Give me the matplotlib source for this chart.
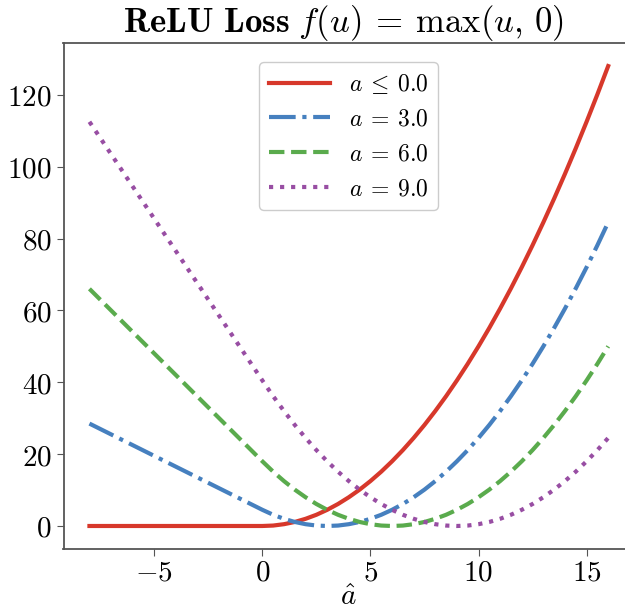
import numpy as np
import matplotlib
matplotlib.use("Agg")
import matplotlib.pyplot as plt
from matplotlib.ticker import FuncFormatter

plt.rcParams['mathtext.fontset'] = 'cm'
plt.rcParams['font.family'] = 'serif'
plt.rcParams['font.serif'] = ['DejaVu Serif']

# a_hat values (half steps)
a_hat = [-8, -7.5, -7, -6.5, -6, -5.5, -5, -4.5, -4, -3.5, -3, -2.5, -2, -1.5,
         -1, -0.5, 0, 0.5, 1, 1.5, 2, 2.5, 3, 3.5, 4, 4.5, 5, 5.5, 6, 6.5, 7,
         7.5, 8, 8.5, 9, 9.5, 10, 10.5, 11, 11.5, 12, 12.5, 13, 13.5, 14,
         14.5, 15, 15.5, 16]

# loss curves
loss_a0 = [0, 0, 0, 0, 0, 0, 0, 0, 0, 0, 0, 0, 0, 0, 0, 0, 0,
           0.12, 0.5, 1.12, 2, 3.12, 4.5, 6.12, 8, 10.12, 12.5, 15.12, 18,
           21.12, 24.5, 28.12, 32, 36.12, 40.5, 45.12, 50, 55.12, 60.5,
           66.12, 72, 78.12, 84.5, 91.12, 98, 105.12, 112.5, 120.12, 128]
loss_a3 = [28.5, 27, 25.5, 24, 22.5, 21, 19.5, 18, 16.5, 15, 13.5, 12, 10.5,
           9, 7.5, 6, 4.5, 3.12, 2, 1.12, 0.5, 0.12, 0, 0.12, 0.5, 1.12, 2,
           3.12, 4.5, 6.12, 8, 10.12, 12.5, 15.12, 18, 21.12, 24.5, 28.12,
           32, 36.12, 40.5, 45.12, 50, 55.12, 60.5, 66.12, 72, 78.12, 84.5]
loss_a6 = [66, 63, 60, 57, 54, 51, 48, 45, 42, 39, 36, 33, 30, 27, 24, 21,
           18, 15.12, 12.5, 10.12, 8, 6.12, 4.5, 3.12, 2, 1.12, 0.5, 0.12, 0,
           0.12, 0.5, 1.12, 2, 3.12, 4.5, 6.12, 8, 10.12, 12.5, 15.12, 18,
           21.12, 24.5, 28.12, 32, 36.12, 40.5, 45.12, 50]
loss_a9 = [112.5, 108, 103.5, 99, 94.5, 90, 85.5, 81, 76.5, 72, 67.5, 63,
           58.5, 54, 49.5, 45, 40.5, 36.12, 32, 28.12, 24.5, 21.12, 18,
           15.12, 12.5, 10.12, 8, 6.12, 4.5, 3.12, 2, 1.12, 0.5, 0.12, 0,
           0.12, 0.5, 1.12, 2, 3.12, 4.5, 6.12, 8, 10.12, 12.5, 15.12, 18,
           21.12, 24.5]

labels = [r'$a\:\leq\:0.0$', r'$a\:=\:3.0$', r'$a\:=\:6.0$', r'$a\:=\:9.0$']

fig = plt.figure(figsize=(6.25, 6.11), dpi=100)
ax = fig.add_axes([0.1016, 0.1015, 0.913, 0.828])

ax.plot(a_hat, loss_a0, color='#d7382b', lw=3, ls='-', label=labels[0])
ax.plot(a_hat, loss_a3, color='#4680bf', lw=3, ls='-.', label=labels[1])
ax.plot(a_hat, loss_a6, color='#5aab4d', lw=3, ls='--', label=labels[2])
ax.plot(a_hat, loss_a9, color='#984ea3', lw=3, ls=':', label=labels[3])

ax.set_xticks([-5, 0, 5, 10, 15])
ax.set_yticks([0, 20, 40, 60, 80, 100, 120])
fmt = FuncFormatter(lambda v, p: r'$%d$' % v)
ax.xaxis.set_major_formatter(fmt)
ax.yaxis.set_major_formatter(fmt)
ax.tick_params(labelsize=21, color='#555555', length=5)
ax.tick_params(axis='x', pad=2)
for s in ax.spines.values():
    s.set_color('#555555')
    s.set_linewidth(1.3)

ax.set_xlabel(r'$\hat{a}$', fontsize=21, labelpad=-3)
ax.set_title(r'$\mathbf{ReLU\ Loss}\ f(u)\:=\:\max(u,\,0)$', fontsize=25,
             pad=6, x=0.49)

ax.legend(loc='upper center', bbox_to_anchor=(0.5, 0.985), fontsize=17,
          handlelength=2.6, framealpha=1, edgecolor='#cccccc')

fig.savefig('out.png', dpi=100)
